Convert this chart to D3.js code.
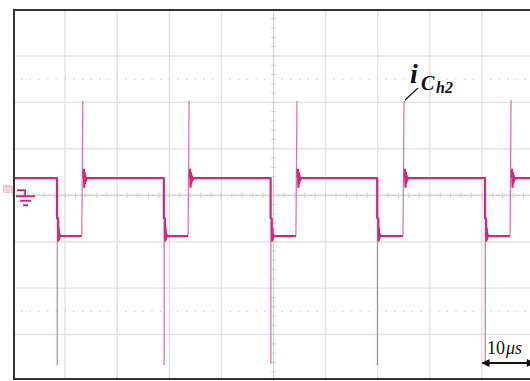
<!DOCTYPE html>
<html>
<head>
<meta charset="utf-8">
<script src="https://cdn.jsdelivr.net/npm/d3@7"></script>
<style>
  html, body { margin: 0; padding: 0; background: #fff; }
  svg { display: block; }
</style>
</head>
<body>
<svg id="scope" width="530" height="381"></svg>
<script>
// Capacitor current i_Ch2, oscilloscope capture (10 µs/div, values in divisions)
const fallTimes = [8.45, 28.95, 49.45, 69.9, 90.6];   // µs, switching-off edges
const riseTimes = [13.25, 33.65, 54.35, 74.9, 95.45]; // µs, switching-on edges
const highLevel = 0.37;                             // div, level between pulses
const lowLevel = -0.88;                             // div, level during pulse
const posSpikes = [2.03, 2.03, 2.03, 2.03, 2.05];   // div, peak at each rising edge
const negSpikes = [-3.66, -3.66, -3.63, -3.66, -3.66]; // div, dip at each falling edge
const riseRinging = [0.55, 0.18, 0.48, 0.26, 0.42, 0.32]; // div, decay after rise
const fallRinging = [-0.5, -0.98, -0.72, -0.94, -0.84];   // div, decay after fall
const timeSpan = [0, 100];     // µs across the screen
const divSpan = [-4, 4];       // vertical divisions
const scaleBar = 10;           // µs
const traceColor = "#d3277f";
const spikeColor = "#dd6ea8";

const svg = d3.select("#scope");
const x = d3.scaleLinear().domain(timeSpan).range([13, 534]);
const y = d3.scaleLinear().domain(divSpan).range([381, 9.5]);

// graticule
const grid = svg.append("g");
const xDivs = d3.range(1, 10).map(i => timeSpan[0] + i * 10);
const yDivs = d3.range(-3, 4);
grid.selectAll("line.v").data(xDivs.filter(d => d !== 50)).join("line")
  .attr("x1", d => x(d)).attr("x2", d => x(d))
  .attr("y1", y(4)).attr("y2", y(-4))
  .attr("stroke", "#e2e2e2").attr("stroke-width", 1.4);
grid.selectAll("line.h").data(yDivs.filter(d => d !== 0)).join("line")
  .attr("x1", x(0)).attr("x2", 530)
  .attr("y1", d => y(d)).attr("y2", d => y(d))
  .attr("stroke", "#e2e2e2").attr("stroke-width", 1.4);

// dotted rows at ±2.5 div
[2.5, -2.5].forEach(v => {
  grid.selectAll(null).data(d3.range(0, 100, 10 / 6).slice(1)).join("rect")
    .attr("x", d => x(d) - 0.7).attr("y", y(v) - 0.7)
    .attr("width", 1.4).attr("height", 1.4)
    .attr("fill", "#d6d6d6");
});

// centre axes with minor ticks
grid.append("line")
  .attr("x1", x(50)).attr("x2", x(50)).attr("y1", y(4)).attr("y2", y(-4))
  .attr("stroke", "#d4d4d4").attr("stroke-width", 1.3);
grid.append("line")
  .attr("x1", x(0)).attr("x2", 530).attr("y1", y(0)).attr("y2", y(0))
  .attr("stroke", "#d4d4d4").attr("stroke-width", 1.3);
grid.selectAll(null).data(d3.range(-4, 4.01, 0.2)).join("line")
  .attr("x1", x(50) - 2.5).attr("x2", x(50) + 2.5)
  .attr("y1", d => y(d)).attr("y2", d => y(d))
  .attr("stroke", "#cfcfcf").attr("stroke-width", 1);
grid.selectAll(null).data(d3.range(0, 100.01, 2)).join("line")
  .attr("x1", d => x(d)).attr("x2", d => x(d))
  .attr("y1", y(0) - 2.5).attr("y2", y(0) + 2.5)
  .attr("stroke", "#cfcfcf").attr("stroke-width", 1);

// trace: thick segments for the settled levels, thin ones for fast edges
const line = d3.line().x(d => x(d[0])).y(d => y(d[1]));
const thick = [];
const thin = [];
let seg = [[timeSpan[0], highLevel]];
fallTimes.forEach((tf, i) => {
  const tr = riseTimes[i];
  seg.push([tf, highLevel], [tf, fallRinging[0]]);
  fallRinging.forEach((v, k) => seg.push([tf + 0.2 + k * 0.07, v]));
  seg.push([tf + 0.7, lowLevel], [tr - 0.05, lowLevel]);
  thick.push(seg);
  thin.push([[tf + 0.05, lowLevel + 0.3], [tf + 0.05, negSpikes[i]]]);
  thin.push([[tr - 0.05, lowLevel], [tr + 0.15, posSpikes[i]]]);
  seg = [[tr + 0.3, highLevel], [tr + 0.3, riseRinging[0]]];
  riseRinging.forEach((v, k) => seg.push([tr + 0.35 + k * 0.08, v]));
  seg.push([tr + 1.0, highLevel]);
});
seg.push([timeSpan[1], highLevel]);
thick.push(seg);

svg.append("g").selectAll("path").data(thin).join("path")
  .attr("d", line).attr("fill", "none")
  .attr("stroke", spikeColor).attr("stroke-width", 1.2);
svg.append("g").selectAll("path").data(thick).join("path")
  .attr("d", line).attr("fill", "none")
  .attr("stroke", traceColor).attr("stroke-width", 2.2)
  .attr("stroke-linejoin", "round");

// frame
const frame = svg.append("g").attr("stroke", "#333").attr("stroke-width", 2);
frame.append("line").attr("x1", 14).attr("x2", 14).attr("y1", 9.5).attr("y2", 380);
frame.append("line").attr("x1", 13).attr("x2", 530).attr("y1", 10).attr("y2", 10);
frame.append("line").attr("x1", 13).attr("x2", 530).attr("y1", 379).attr("y2", 379);

// channel marker and ground reference
svg.append("rect").attr("x", 3).attr("y", 185).attr("width", 10).attr("height", 8)
  .attr("rx", 1.5).attr("fill", "#f3bfd7");
svg.append("text").attr("x", 8).attr("y", 191.5).attr("text-anchor", "middle")
  .attr("font-family", "DejaVu Sans").attr("font-size", 6).attr("fill", "#fff").text("C1");
svg.append("path")
  .attr("d", `M17,${y(0) - 5}H25V${y(0) + 1}M16,${y(0) + 1}H35M20,${y(0) + 5.5}H31M23,${y(0) + 10}H28`)
  .attr("fill", "none").attr("stroke", traceColor).attr("stroke-width", 1.8);

// trace label with leader
const lbl = svg.append("text").attr("font-family", "Liberation Serif")
  .attr("font-style", "italic").attr("font-weight", "bold").attr("fill", "#111");
lbl.append("tspan").attr("x", 410).attr("y", 83).attr("font-size", 28).text("i");
lbl.append("tspan").attr("x", 421).attr("y", 90).attr("font-size", 20).text("C");
lbl.append("tspan").attr("x", 436).attr("y", 93).attr("font-size", 16).text("h2");
svg.append("line").attr("x1", 405).attr("y1", 100).attr("x2", 418).attr("y2", 88)
  .attr("stroke", "#111").attr("stroke-width", 1.1);

// time scale bar
const defs = svg.append("defs");
defs.append("marker").attr("id", "ah").attr("viewBox", "0 0 10 10")
  .attr("refX", 9).attr("refY", 5).attr("markerWidth", 10).attr("markerHeight", 8)
  .attr("markerUnits", "userSpaceOnUse").attr("orient", "auto-start-reverse")
  .append("path").attr("d", "M0,0L10,5L0,10Z").attr("fill", "#111");
svg.append("line")
  .attr("x1", x(90 - 0.1) + 1).attr("x2", x(90 + scaleBar)).attr("y1", 363).attr("y2", 363)
  .attr("stroke", "#111").attr("stroke-width", 1.8)
  .attr("marker-start", "url(#ah)").attr("marker-end", "url(#ah)");
const sb = svg.append("text").attr("x", 487).attr("y", 354)
  .attr("font-family", "Liberation Serif").attr("font-size", 18).attr("fill", "#111");
sb.append("tspan").text("10");
sb.append("tspan").attr("font-style", "italic").attr("dx", 1).text("μs");
</script>
</body>
</html>
